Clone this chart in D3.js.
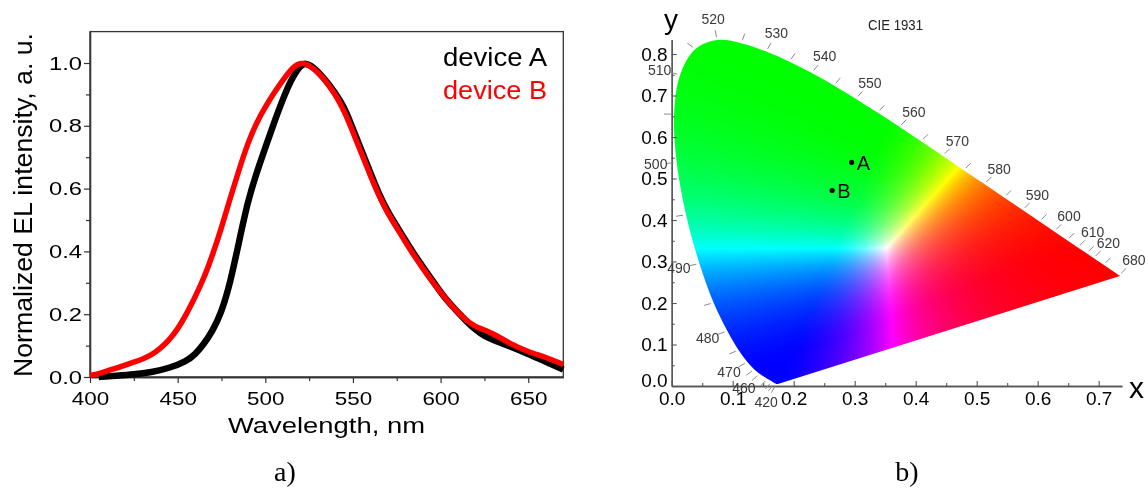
<!DOCTYPE html>
<html><head><meta charset="utf-8">
<script src="https://cdn.jsdelivr.net/npm/d3@7"></script>
<style>
body{margin:0;background:#fff;}
#wrap{position:relative;width:1148px;height:488px;overflow:hidden;}
canvas,svg{position:absolute;left:0;top:0;}
</style></head><body>
<div id="wrap"><canvas id="cv" width="1148" height="488"></canvas><svg id="svg" width="1148" height="488"></svg></div>
<script>
// ---------- Panel a data ----------
const seriesNames = ["device A", "device B"];
const wavelengthsA = [405,415,425,435,445,455,460,465,470,475,480,485,490,495,500,505,510,515,520,523,527,533,540,545,550,555,560,565,570,575,580,585,590,595,600,605,610,615,620,625,630,640,650,660,670];
const intensityA  = [0.0,0.004,0.008,0.015,0.028,0.05,0.072,0.105,0.148,0.205,0.3,0.43,0.56,0.65,0.73,0.81,0.885,0.95,0.993,1.0,0.99,0.955,0.905,0.86,0.79,0.72,0.65,0.58,0.525,0.48,0.435,0.39,0.35,0.31,0.27,0.235,0.205,0.176,0.15,0.13,0.118,0.097,0.074,0.048,0.024];
const wavelengthsB = [400,405,410,415,420,425,430,435,440,445,450,455,460,465,470,475,480,485,490,495,500,505,510,515,519,523,527,533,540,545,550,555,560,565,570,575,580,585,590,595,600,605,610,615,620,625,630,640,650,660,670];
const intensityB  = [0.005,0.01,0.02,0.028,0.038,0.047,0.057,0.07,0.09,0.117,0.152,0.2,0.255,0.315,0.39,0.475,0.57,0.66,0.745,0.81,0.86,0.905,0.945,0.982,1.0,0.998,0.985,0.955,0.9,0.848,0.78,0.71,0.64,0.575,0.52,0.475,0.43,0.385,0.345,0.305,0.27,0.235,0.205,0.178,0.16,0.15,0.138,0.105,0.08,0.063,0.04];
const xTicksA = [400,450,500,550,600,650];
const xMinorA = [425,475,525,575,625];
const yTicksA = [0,0.2,0.4,0.6,0.8,1.0];
const yMinorA = [0.1,0.3,0.5,0.7,0.9];

// ---------- Panel b data (CIE 1931 2° spectral locus) ----------
const locusWavelengths = [380,385,390,395,400,405,410,415,420,425,430,435,440,445,450,455,460,465,470,475,480,485,490,495,500,505,510,515,520,525,530,535,540,545,550,555,560,565,570,575,580,585,590,595,600,605,610,615,620,625,630,635,640,645,650,655,660,665,670,675,680,685,690,695,700];
const locusX = [0.1741,0.1740,0.1738,0.1736,0.1733,0.1730,0.1726,0.1721,0.1714,0.1703,0.1689,0.1669,0.1644,0.1611,0.1566,0.1510,0.1440,0.1355,0.1241,0.1096,0.0913,0.0687,0.0454,0.0235,0.0082,0.0039,0.0139,0.0389,0.0743,0.1142,0.1547,0.1929,0.2296,0.2658,0.3016,0.3373,0.3731,0.4087,0.4441,0.4788,0.5125,0.5448,0.5752,0.6029,0.6270,0.6482,0.6658,0.6801,0.6915,0.7006,0.7079,0.7140,0.7190,0.7230,0.7260,0.7283,0.7300,0.7311,0.7320,0.7327,0.7334,0.7340,0.7344,0.7346,0.7347];
const locusY = [0.0050,0.0050,0.0049,0.0049,0.0048,0.0048,0.0048,0.0048,0.0051,0.0058,0.0069,0.0086,0.0109,0.0138,0.0177,0.0227,0.0297,0.0399,0.0578,0.0868,0.1327,0.2007,0.2950,0.4127,0.5384,0.6548,0.7502,0.8120,0.8338,0.8262,0.8059,0.7816,0.7543,0.7243,0.6923,0.6589,0.6245,0.5896,0.5547,0.5202,0.4866,0.4544,0.4242,0.3965,0.3725,0.3514,0.3340,0.3197,0.3083,0.2993,0.2920,0.2859,0.2809,0.2770,0.2740,0.2717,0.2700,0.2689,0.2680,0.2673,0.2666,0.2660,0.2656,0.2654,0.2653];
const labeledWavelengths = [420,460,470,480,490,500,510,520,530,540,550,560,570,580,590,600,610,620,680];
const tickWavelengths = [420,430,440,450,460,465,470,475,480,485,490,495,500,505,510,515,520,525,530,535,540,545,550,555,560,565,570,575,580,585,590,595,600,605,610,615,620,630,680];
const deviceNames = ["A", "B"];
const deviceX = [0.295, 0.263];
const deviceY = [0.539, 0.471];
const cieXTicks = [0,0.1,0.2,0.3,0.4,0.5,0.6,0.7];
const cieXMinor = [0.05,0.15,0.25,0.35,0.45,0.55,0.65];
const cieYTicks = [0,0.1,0.2,0.3,0.4,0.5,0.6,0.7,0.8];
const cieYMinor = [0.05,0.15,0.25,0.35,0.45,0.55,0.65,0.75];
const whitePoint = [0.352, 0.332];

const SANS = "'Liberation Sans', Arial, sans-serif";
const svg = d3.select('#svg');

function stretch(sel, k) {
  sel.each(function () {
    const w = this.getComputedTextLength();
    this.setAttribute('textLength', w * k);
    this.setAttribute('lengthAdjust', 'spacingAndGlyphs');
  });
}

// ================= Panel a =================
const xA = d3.scaleLinear().domain([400, 670]).range([90, 563.3]);
const yA = d3.scaleLinear().domain([0, 1.1]).range([377, 31.6]);
const gA = svg.append('g');
const axisColA = '#333';

gA.append('rect')
  .attr('x', xA.range()[0]).attr('y', yA.range()[1])
  .attr('width', xA.range()[1] - xA.range()[0])
  .attr('height', yA.range()[0] - yA.range()[1])
  .attr('fill', 'none').attr('stroke', axisColA).attr('stroke-width', 1.3);

const gxA = gA.append('g').attr('transform', `translate(0,${yA(0)})`)
  .call(d3.axisBottom(xA).tickValues(xTicksA).tickFormat(d3.format('d')).tickSize(6).tickPadding(8.5).tickSizeOuter(0));
const gxAm = gA.append('g').attr('transform', `translate(0,${yA(0)})`)
  .call(d3.axisBottom(xA).tickValues(xMinorA).tickFormat('').tickSize(4).tickSizeOuter(0));
const gyA = gA.append('g').attr('transform', `translate(${xA(400)},0)`)
  .call(d3.axisLeft(yA).tickValues(yTicksA).tickFormat(d3.format('.1f')).tickSize(6).tickPadding(2).tickSizeOuter(0));
const gyAm = gA.append('g').attr('transform', `translate(${xA(400)},0)`)
  .call(d3.axisLeft(yA).tickValues(yMinorA).tickFormat('').tickSize(4).tickSizeOuter(0));
[gxA, gxAm, gyA, gyAm].forEach(g => {
  g.select('.domain').attr('stroke', axisColA).attr('stroke-width', 1.3);
  g.selectAll('.tick line').attr('stroke', axisColA).attr('stroke-width', 1.2);
  g.selectAll('text').attr('font-family', SANS).attr('font-size', 19).attr('fill', '#000');
});
stretch(gxA.selectAll('text'), 1.18);
stretch(gyA.selectAll('text'), 1.25);

const lineA = d3.line().x(d => xA(d[0])).y(d => yA(d[1])).curve(d3.curveBasis);
gA.append('path').datum(wavelengthsA.map((w, i) => [w, intensityA[i]]))
  .attr('d', lineA).attr('fill', 'none').attr('stroke', '#000').attr('stroke-width', 6.5).attr('stroke-linejoin', 'round');
gA.append('path').datum(wavelengthsB.map((w, i) => [w, intensityB[i]]))
  .attr('d', lineA).attr('fill', 'none').attr('stroke', '#ff0000').attr('stroke-width', 5.5).attr('stroke-linejoin', 'round');

// legend
const legColors = ['#000', '#ff0000'];
seriesNames.forEach((s, i) => {
  gA.append('text').attr('x', 547).attr('y', 66 + i * 33)
    .attr('text-anchor', 'end').attr('font-family', SANS).attr('font-size', 25)
    .attr('fill', legColors[i]).attr('textLength', 104).attr('lengthAdjust', 'spacingAndGlyphs').text(s);
});

// axis titles
gA.append('text').attr('transform', 'translate(32,205) rotate(-90)')
  .attr('text-anchor', 'middle').attr('font-family', SANS).attr('font-size', 26)
  .attr('textLength', 344).attr('lengthAdjust', 'spacingAndGlyphs')
  .text('Normalized EL intensity, a. u.');
gA.append('text').attr('x', 326.5).attr('y', 433)
  .attr('text-anchor', 'middle').attr('font-family', SANS).attr('font-size', 22)
  .attr('textLength', 197).attr('lengthAdjust', 'spacingAndGlyphs')
  .text('Wavelength, nm');
svg.append('text').attr('x', 285).attr('y', 481).attr('text-anchor', 'middle')
  .attr('font-family', "'Liberation Serif', 'Times New Roman', serif").attr('font-size', 28).text('a)');

// ================= Panel b =================
const xB = d3.scaleLinear().domain([0, 0.738]).range([671.7, 1121.9]);
const yB = d3.scaleLinear().domain([0, 0.835]).range([386, 39.5]);
const gB = svg.append('g');
const n = locusWavelengths.length;

// colour fill on canvas
const cv = document.getElementById('cv');
const ctx = cv.getContext('2d');
const off = document.createElement('canvas');
off.width = 1148; off.height = 488;
const octx = off.getContext('2d');
const img = octx.createImageData(1148, 488);
const shiftX = whitePoint[0] - 0.3127, shiftY = whitePoint[1] - 0.3290;
function chroma(x, y) {
  const xs = x - shiftX, ys = Math.max(y - shiftY, 0.003);
  const X = xs / ys, Y = 1, Z = (1 - xs - ys) / ys;
  let r = 3.2406 * X - 1.5372 * Y - 0.4986 * Z;
  let g = -0.9689 * X + 1.8758 * Y + 0.0415 * Z;
  let b = 0.0557 * X - 0.2040 * Y + 1.0570 * Z;
  r = Math.max(r, 0); g = Math.max(g, 0); b = Math.max(b, 0);
  const m = Math.max(r, g, b) || 1;
  return [r / m, g / m, b / m].map(v => Math.round(255 * Math.pow(v, 1.4)));
}
const px0 = Math.floor(xB.range()[0]), px1 = Math.ceil(xB.range()[1]);
const py0 = Math.floor(yB.range()[1]), py1 = Math.ceil(yB.range()[0]);
for (let py = py0; py <= py1; py++) {
  for (let px = px0; px <= px1; px++) {
    const c = chroma(xB.invert(px + 0.5), yB.invert(py + 0.5));
    const k = (py * 1148 + px) * 4;
    img.data[k] = c[0]; img.data[k + 1] = c[1]; img.data[k + 2] = c[2]; img.data[k + 3] = 255;
  }
}
octx.putImageData(img, 0, 0);
const locusLine = d3.line().x(i => xB(locusX[i])).y(i => yB(locusY[i])).curve(d3.curveCatmullRom.alpha(0.5));
ctx.save();
ctx.beginPath();
locusLine.context(ctx)(d3.range(n));
ctx.closePath();
ctx.clip();
ctx.drawImage(off, 0, 0);
ctx.restore();

// axes
const axisColB = '#555';
const gxB = gB.append('g').attr('transform', `translate(0,${yB(0)})`)
  .call(d3.axisBottom(xB).tickValues(cieXTicks).tickFormat(d3.format('.1f')).tickSize(-5).tickPadding(6).tickSizeOuter(0));
const gxBm = gB.append('g').attr('transform', `translate(0,${yB(0)})`)
  .call(d3.axisBottom(xB).tickValues(cieXMinor).tickFormat('').tickSize(-3).tickSizeOuter(0));
const gyB = gB.append('g').attr('transform', `translate(${xB(0)},0)`)
  .call(d3.axisLeft(yB).tickValues(cieYTicks).tickFormat(d3.format('.1f')).tickSize(-5).tickPadding(4).tickSizeOuter(0));
const gyBm = gB.append('g').attr('transform', `translate(${xB(0)},0)`)
  .call(d3.axisLeft(yB).tickValues(cieYMinor).tickFormat('').tickSize(-3).tickSizeOuter(0));
[gxB, gxBm, gyB, gyBm].forEach(g => {
  g.select('.domain').attr('stroke', axisColB).attr('stroke-width', 1.3);
  g.selectAll('.tick line').attr('stroke', axisColB).attr('stroke-width', 1.1);
  g.selectAll('text').attr('font-family', SANS).attr('font-size', 19).attr('fill', '#000');
});
gyB.selectAll('.tick').filter(d => d === 0).select('text').attr('dy', '0.02em');

// wavelength ticks and labels on the locus
function normalAt(i) {
  const a = Math.max(i - 1, 0), b = Math.min(i + 1, n - 1);
  const tx = locusX[b] - locusX[a], ty = locusY[b] - locusY[a];
  let nx = -ty, ny = tx;
  if (nx * (locusX[i] - 0.33) + ny * (locusY[i] - 0.33) < 0) { nx = -nx; ny = -ny; }
  const L = Math.hypot(nx, ny);
  return [nx / L, -ny / L];
}
const gL = gB.append('g');
tickWavelengths.forEach(w => {
  const i = locusWavelengths.indexOf(w);
  const [nx, ny] = normalAt(i);
  const x = xB(locusX[i]), y = yB(locusY[i]);
  gL.append('line').attr('x1', x + nx * 3).attr('y1', y + ny * 3)
    .attr('x2', x + nx * 10).attr('y2', y + ny * 10)
    .attr('stroke', '#8a8a8a').attr('stroke-width', 1);
});
labeledWavelengths.forEach(w => {
  const i = locusWavelengths.indexOf(w);
  const [nx, ny] = normalAt(i);
  const x = xB(locusX[i]), y = yB(locusY[i]);
  gL.append('text').attr('x', x + nx * 21).attr('y', y + ny * 21).attr('dy', '0.35em')
    .attr('text-anchor', 'middle').attr('font-family', SANS).attr('font-size', 14)
    .attr('fill', '#3a3a3a').text(w);
});

// device points
deviceNames.forEach((d, i) => {
  gB.append('circle').attr('cx', xB(deviceX[i])).attr('cy', yB(deviceY[i])).attr('r', 2.6).attr('fill', '#000');
  gB.append('text').attr('x', xB(deviceX[i]) + 5).attr('y', yB(deviceY[i])).attr('dy', '0.36em')
    .attr('font-family', SANS).attr('font-size', 20).attr('fill', '#000').text(d);
});

// titles
gB.append('text').attr('x', 868).attr('y', 30).attr('font-family', SANS).attr('font-size', 14)
  .attr('fill', '#222').attr('textLength', 55).attr('lengthAdjust', 'spacingAndGlyphs').text('CIE 1931');
gB.append('text').attr('x', 671).attr('y', 29).attr('text-anchor', 'middle')
  .attr('font-family', SANS).attr('font-size', 28).text('y');
gB.append('text').attr('x', 1136.5).attr('y', 398).attr('text-anchor', 'middle')
  .attr('font-family', SANS).attr('font-size', 30).text('x');
svg.append('text').attr('x', 907).attr('y', 481).attr('text-anchor', 'middle')
  .attr('font-family', "'Liberation Serif', 'Times New Roman', serif").attr('font-size', 28).text('b)');
</script>
</body></html>
